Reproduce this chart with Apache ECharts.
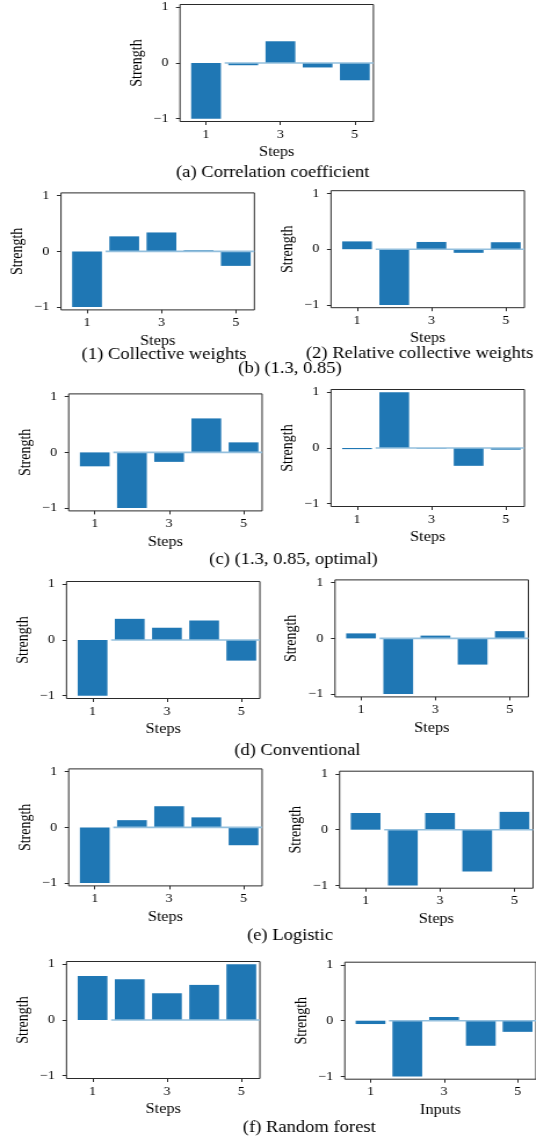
<!DOCTYPE html>
<html>
<head>
<meta charset="utf-8">
<script src="https://cdn.jsdelivr.net/npm/echarts@6/dist/echarts.min.js"></script>
<style>
html,body{margin:0;padding:0;background:#fff;overflow:hidden;}
#wrap{width:536px;height:1142px;overflow:hidden;position:relative;}
#chart{width:462px;height:1142px;transform:scaleX(1.16);transform-origin:0 0;}
</style>
</head>
<body>
<div id="wrap"><div id="chart"></div></div>
<script>
// ---- data ----
const steps = [1, 2, 3, 4, 5];
const xTickValues = [1, 3, 5];
const yTickValues = [-1, 0, 1];
const zeroLineStart = 1.5;
const zeroLineEnd = 5.5;

const corrCoef = [-1, -0.04, 0.39, -0.08, -0.31];
const collectiveWeights = [-1, 0.27, 0.34, 0.02, -0.26];
const relativeCollectiveWeights = [0.14, -1, 0.13, -0.065, 0.125];
const optimalCollective = [-0.25, -1, -0.17, 0.61, 0.18];
const optimalRelative = [-0.02, 1, -0.01, -0.32, -0.03];
const conventionalCollective = [-1, 0.38, 0.22, 0.35, -0.37];
const conventionalRelative = [0.09, -1, 0.05, -0.47, 0.13];
const logisticCollective = [-1, 0.13, 0.38, 0.18, -0.32];
const logisticRelative = [0.30, -1, 0.30, -0.75, 0.32];
const randomForestSteps = [0.79, 0.73, 0.48, 0.63, 1.0];
const randomForestInputs = [-0.06, -1, 0.066, -0.45, -0.2];

const panelSeries = [corrCoef, collectiveWeights, relativeCollectiveWeights,
  optimalCollective, optimalRelative, conventionalCollective, conventionalRelative,
  logisticCollective, logisticRelative, randomForestSteps, randomForestInputs];
const panelXNames = ['Steps','Steps','Steps','Steps','Steps','Steps','Steps','Steps','Steps','Steps','Inputs'];

const captions = ['(a) Correlation coefficient', '(1) Collective weights', '(2) Relative collective weights',
  '(b) (1.3, 0.85)', '(c) (1.3, 0.85, optimal)', '(d) Conventional', '(e) Logistic', '(f) Random forest'];

// ---- layout (image pixels) ----
const S = 1.16;            // horizontal stretch of the figure
const W = 193.4, H = 117;
const layout = [
  {left:180, top:4.5}, {left:61, top:192.9}, {left:331, top:190.7},
  {left:68.7, top:393.9}, {left:331, top:389.5},
  {left:66.5, top:581.5}, {left:335, top:579.9},
  {left:68.7, top:768.9}, {left:339.6, top:771.2},
  {left:66.5, top:961.5}, {left:344.8, top:962.2}
];
const captionPos = [
  {x:272.7, y:172.5, align:'center'}, {x:164.1, y:355, align:'center'}, {x:306, y:353.3, align:'left'},
  {x:290, y:369, align:'center'}, {x:293.5, y:560, align:'center'}, {x:297.4, y:751, align:'center'},
  {x:290, y:935.5, align:'center'}, {x:309.3, y:1128, align:'center'}
];

const FONT = '"Liberation Serif", "DejaVu Serif", serif';
const BAR = '#1f77b4';
const ZERO = '#93bfdd';
const FRAME = '#2a2a2a';
const fmtMinus = v => v < 0 ? '\u2212' + Math.abs(v) : String(v);

const grids = [], xAxes = [], yAxes = [], series = [];
layout.forEach((p, i) => {
  const gw = W / S;
  grids.push({left: p.left / S, top: p.top, width: gw, height: H,
    show: true, borderColor: FRAME, borderWidth: 1, backgroundColor: 'transparent', containLabel: false});
  xAxes.push({type:'value', gridIndex:i, min:0.3, max:5.5, position:'bottom',
    axisLine:{show:false, onZero:false}, splitLine:{show:false},
    axisTick:{show:true, inside:false, length:3.5, customValues:xTickValues, lineStyle:{color:FRAME, width:1}},
    axisLabel:{show:true, customValues:xTickValues, margin:7, fontFamily:FONT, fontSize:12, color:'#000'},
    name: panelXNames[i], nameLocation:'middle', nameGap:24,
    nameTextStyle:{fontFamily:FONT, fontSize:14, color:'#000'}});
  yAxes.push({type:'value', gridIndex:i, min:-1.05, max:1.05, position:'left',
    axisLine:{show:false, onZero:false}, splitLine:{show:false},
    axisTick:{show:true, inside:false, length:3.5, customValues:yTickValues, lineStyle:{color:FRAME, width:1}},
    axisLabel:{show:true, customValues:yTickValues, margin:10, fontFamily:FONT, fontSize:12, color:'#000', formatter:fmtMinus},
    name:'Strength', nameLocation:'middle', nameGap:30, nameRotate:90,
    nameTextStyle:{fontFamily:FONT, fontSize:14, color:'#000'}});
  series.push({type:'bar', xAxisIndex:i, yAxisIndex:i,
    barWidth: 0.8 * gw / 5.2,
    itemStyle:{color:BAR},
    data: steps.map((s, j) => [s, panelSeries[i][j]]), z:2, animation:false});
  series.push({type:'line', xAxisIndex:i, yAxisIndex:i, symbol:'none',
    lineStyle:{color:ZERO, width:1.6}, z:3, animation:false, silent:true,
    data: [[zeroLineStart, 0], [zeroLineEnd, 0]]});
});

const graphics = captions.map((t, i) => ({
  type:'text', x: captionPos[i].x / S, y: captionPos[i].y,
  style:{text:t, fontFamily:FONT, fontSize:16, fill:'#000',
    textAlign:captionPos[i].align, align:captionPos[i].align,
    textVerticalAlign:'middle', verticalAlign:'middle'}
}));

const chart = echarts.init(document.getElementById('chart'), null, {renderer:'canvas'});
chart.setOption({
  animation:false,
  backgroundColor:'#fff',
  grid: grids, xAxis: xAxes, yAxis: yAxes, series: series,
  graphic: graphics
});
</script>
</body>
</html>
